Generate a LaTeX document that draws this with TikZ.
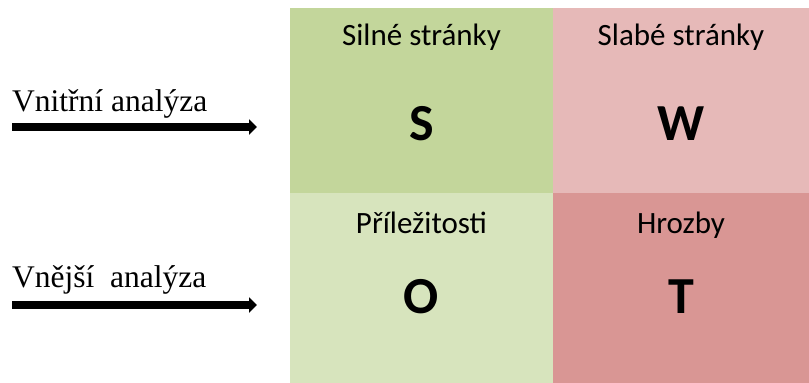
\documentclass[tikz,border=0pt]{standalone}
\usepackage{fontspec}
\setmainfont{Liberation Serif}
\newfontfamily\cellfont{Carlito}
\usetikzlibrary{arrows.meta}

\definecolor{swotS}{HTML}{C3D69B}
\definecolor{swotW}{HTML}{E6B9B8}
\definecolor{swotO}{HTML}{D7E4BD}
\definecolor{swotT}{HTML}{D99694}

\begin{document}
\begin{tikzpicture}[x=1pt,y=-1pt,
		cell/.style={anchor=north west,inner sep=0pt,outer sep=0pt},
		heading/.style={font=\cellfont\fontsize{31}{37}\selectfont,anchor=base,inner sep=0pt},
		letter/.style={font=\cellfont\bfseries\fontsize{52}{60}\selectfont,anchor=base,inner sep=0pt},
		side/.style={font=\fontsize{31.5}{37}\selectfont,anchor=base west,inner sep=0pt},
		feed/.style={line width=7.5pt,-{Triangle[length=8pt,width=15pt]}}]
	\useasboundingbox (0,0) rectangle (809,383);

	% quadrants: name/x/y/width/height/colour/heading/letter/heading base/letter base
	\foreach \n/\x/\y/\w/\h/\c/\t/\l/\ty/\ly in {
		s/290/8/263/185/swotS/{Silné stránky}/S/45/140,
		w/553/8/256/185/swotW/{Slabé stránky}/W/45/140,
		o/290/193/263/190/swotO/{Příležitosti}/O/233/313,
		t/553/193/256/190/swotT/{Hrozby}/T/233/313}{
		\node[cell,fill=\c,minimum width=\w pt,minimum height=\h pt] (\n) at (\x,\y) {};
		\node[heading] (\n-head) at (\x+\w/2,\ty) {\t};
		\node[letter] (\n-letter) at (\x+\w/2,\ly) {\l};
	}

	% internal / external analysis
	\node[side] (in-label) at (12,111) {Vnitřní analýza};
	\coordinate (in-from) at (12,127);
	\coordinate (in-to) at (257,127);
	\draw[feed] (in-from) -- (in-to);

	\node[side] (ex-label) at (12,287) {Vnější~~analýza};
	\coordinate (ex-from) at (12,305);
	\coordinate (ex-to) at (257,305);
	\draw[feed] (ex-from) -- (ex-to);
\end{tikzpicture}
\end{document}
